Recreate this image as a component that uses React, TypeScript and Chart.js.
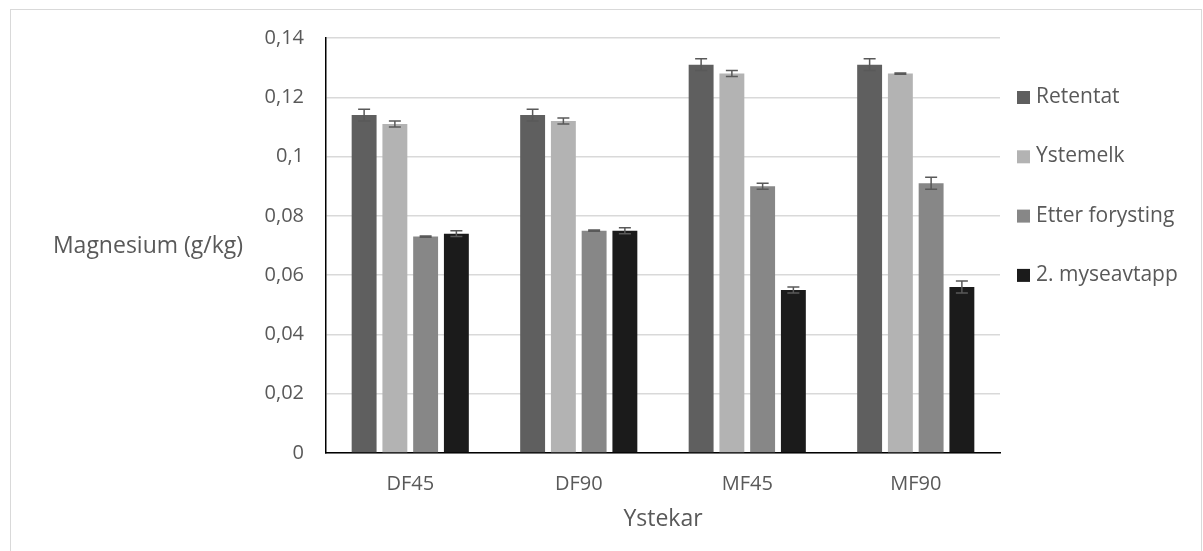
import React, { useEffect, useRef } from "react";
import { Chart, registerables } from "chart.js";

Chart.register(...registerables);

const categories = ["DF45", "DF90", "MF45", "MF90"];
const seriesNames = ["Retentat", "Ystemelk", "Etter forysting", "2. myseavtapp"];
const retentat = [0.114, 0.114, 0.131, 0.131];
const ystemelk = [0.111, 0.112, 0.128, 0.128];
const etterForysting = [0.073, 0.075, 0.09, 0.091];
const myseavtapp = [0.074, 0.075, 0.055, 0.056];
const retentatErr = [0.002, 0.002, 0.002, 0.002];
const ystemelkErr = [0.001, 0.001, 0.001, 0.0002];
const etterErr = [0.0002, 0.0002, 0.001, 0.002];
const myseErr = [0.001, 0.001, 0.001, 0.002];
const seriesColors = ["#5f5f5f", "#b3b3b3", "#878787", "#1b1b1b"];
const yTitle = "Magnesium (g/kg)";
const xTitle = "Ystekar";

const FONT = "'Open Sans', sans-serif";
const TEXT = "#595959";

export default function App() {
  const ref = useRef<HTMLCanvasElement>(null);
  useEffect(() => {
    if (!ref.current) return;
    const values = [retentat, ystemelk, etterForysting, myseavtapp];
    const errors = [retentatErr, ystemelkErr, etterErr, myseErr];
    const extras = {
      id: "extras",
      beforeDraw(chart: any) {
        const ctx = chart.ctx;
        ctx.save();
        ctx.strokeStyle = "#d9d9d9";
        ctx.lineWidth = 1;
        ctx.strokeRect(10.5, 9.5, 1191, 600);
        ctx.restore();
      },
      afterDatasetsDraw(chart: any) {
        const ctx = chart.ctx;
        const y = chart.scales.y;
        ctx.save();
        ctx.strokeStyle = "#595959";
        ctx.lineWidth = 1.5;
        chart.data.datasets.forEach((ds: any, i: number) => {
          const meta = chart.getDatasetMeta(i);
          meta.data.forEach((bar: any, j: number) => {
            const v = ds.data[j];
            const e = errors[i][j];
            const x = bar.x;
            const yt = y.getPixelForValue(v + e);
            const yb = y.getPixelForValue(v - e);
            ctx.beginPath();
            ctx.moveTo(x, yt);
            ctx.lineTo(x, yb);
            ctx.moveTo(x - 6, yt);
            ctx.lineTo(x + 6, yt);
            ctx.moveTo(x - 6, yb);
            ctx.lineTo(x + 6, yb);
            ctx.stroke();
          });
        });
        ctx.restore();
      },
      afterDraw(chart: any) {
        const ctx = chart.ctx;
        const area = chart.chartArea;
        ctx.save();
        ctx.fillStyle = TEXT;
        ctx.font = `23px ${FONT}`;
        ctx.textBaseline = "middle";
        ctx.textAlign = "center";
        ctx.fillText(yTitle, 148, 246);
        ctx.fillText(xTitle, (area.left + area.right) / 2, 519);
        ctx.font = `21px ${FONT}`;
        ctx.textAlign = "left";
        chart.data.datasets.forEach((ds: any, i: number) => {
          const yy = 97 + i * 59.3;
          ctx.fillStyle = ds.backgroundColor;
          ctx.fillRect(1017, yy - 6, 13, 13);
          ctx.fillStyle = TEXT;
          ctx.fillText(ds.label, 1036, yy);
        });
        ctx.restore();
      },
    };
    const chart = new Chart(ref.current, {
      type: "bar",
      data: {
        labels: categories,
        datasets: seriesNames.map((name, i) => ({
          label: name,
          data: values[i],
          backgroundColor: seriesColors[i],
          categoryPercentage: 0.73,
          barPercentage: 0.81,
        })),
      },
      options: {
        animation: false,
        responsive: false,
        maintainAspectRatio: false,
        layout: { padding: { left: 0, right: 203, top: 38, bottom: 0 } },
        plugins: { legend: { display: false }, tooltip: { enabled: false } },
        scales: {
          x: {
            grid: { display: false, drawTicks: false },
            border: { color: "#000000", width: 1.5 },
            ticks: { color: TEXT, font: { family: FONT, size: 20 }, padding: 19 },
            afterFit(scale: any) {
              scale.height = 98;
            },
          },
          y: {
            min: 0,
            max: 0.14,
            grid: { color: "#d9d9d9", lineWidth: 1.5, drawTicks: false },
            border: { color: "#000000", width: 1.5 },
            ticks: {
              stepSize: 0.02,
              color: TEXT,
              font: { family: FONT, size: 20 },
              padding: 22,
              callback: (v: any) => String(+Number(v).toFixed(2)).replace(".", ","),
            },
            afterFit(scale: any) {
              scale.width = 326;
            },
          },
        },
      },
      plugins: [extras],
    });
    return () => chart.destroy();
  }, []);
  return (
    <div style={{ position: "fixed", left: 0, top: 0, width: 1203, height: 551, background: "#fff" }}>
      <canvas ref={ref} width={1203} height={551} style={{ display: "block" }} />
    </div>
  );
}
